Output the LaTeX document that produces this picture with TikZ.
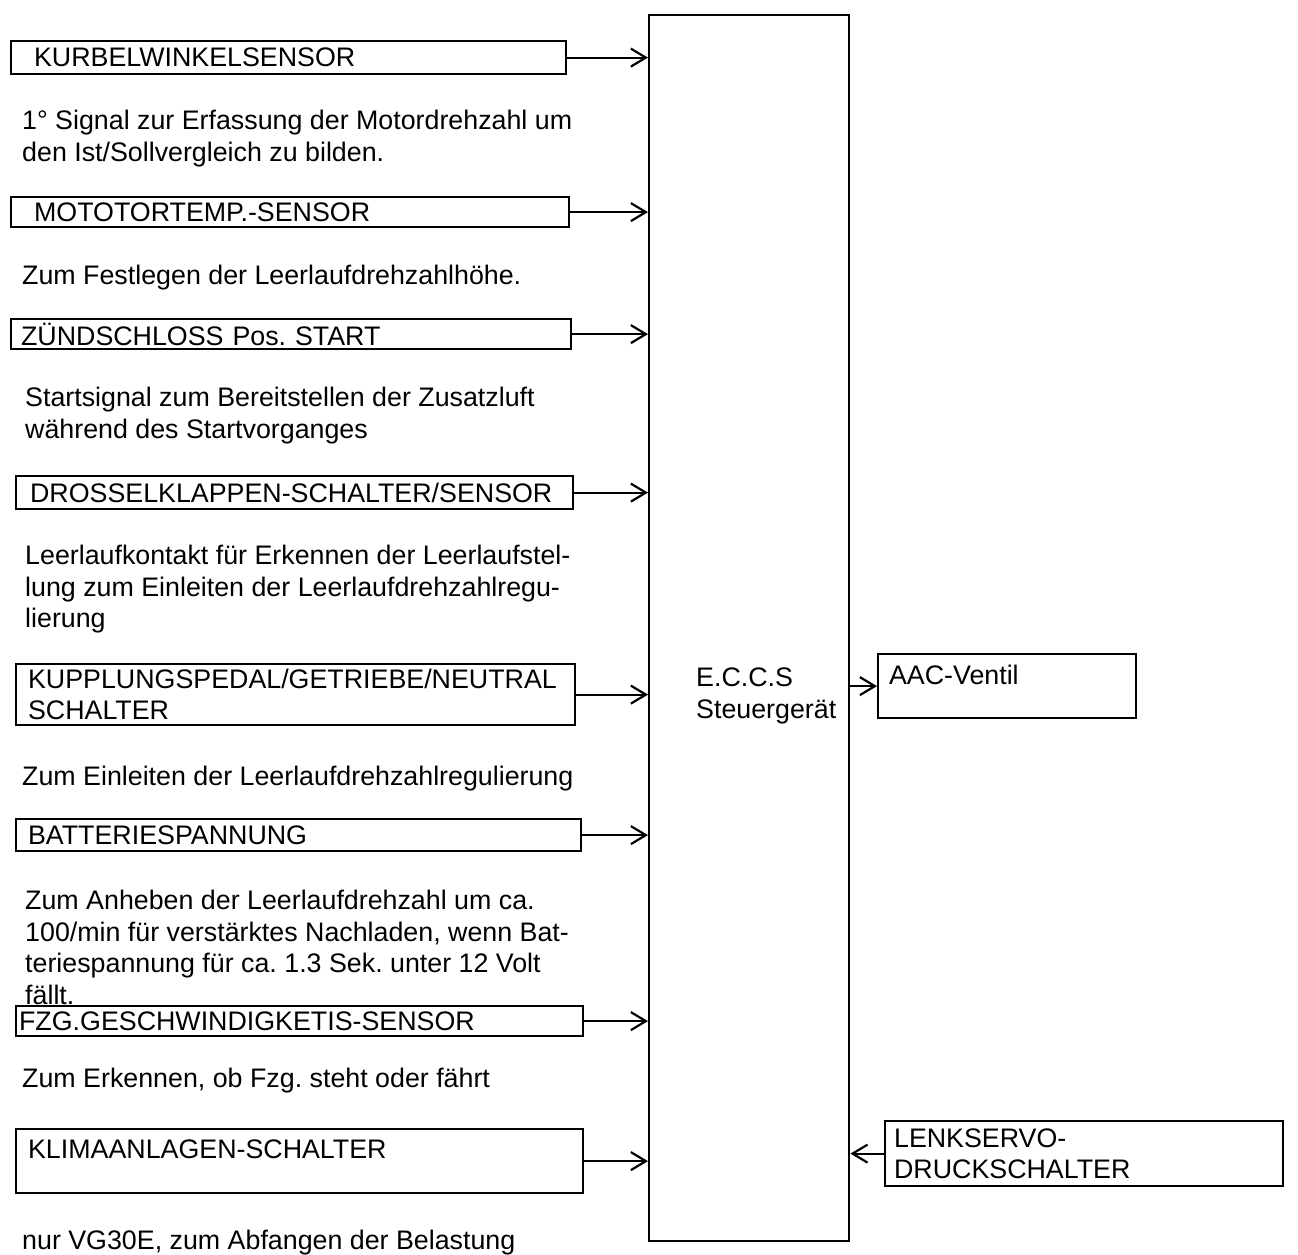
\documentclass[tikz,border=0pt]{standalone}
\usepackage{fontspec}
\setmainfont{Liberation Sans}
\usepackage{tikz}
\usetikzlibrary{arrows.meta, positioning}
\frenchspacing

\begin{document}
\begin{tikzpicture}[
    x=1pt, y=-1pt,
    font=\fontsize{26.8pt}{31.5pt}\selectfont,
    sensor/.style={draw, line width=2.2pt, rectangle, anchor=north west, align=left, inner ysep=0pt, inner xsep=12pt},
    note/.style={anchor=north west, align=left, inner sep=0pt},
    sig/.style={line width=2.2pt, -{Straight Barb[length=15pt, width=18pt, line width=2.2pt]}}
]
\useasboundingbox (0,0) rectangle (1298,1254);

% Nodes
\node (ecu) [draw, line width=2.4pt, anchor=north west, minimum width=200pt, minimum height=1226pt, inner sep=0pt] at (648,14) {};
\node (ecutxt) [note] at (696,668) {E.C.C.S\\Steuergerät};

\node (kurbel) [sensor, minimum height=33pt, text width=509pt, inner xsep=23pt] at (10,40) {KURBELWINKELSENSOR};
\node (motor) [sensor, minimum height=30pt, text width=512pt, inner xsep=23pt] at (10,196) {MOTOTORTEMP.-SENSOR};
\node (zuend) [sensor, minimum height=30pt, text width=540pt, inner xsep=10pt] at (10,318) {ZÜNDSCHLOSS Pos. START};
\node (drossel) [sensor, minimum height=33pt, text width=529pt, inner xsep=14pt] at (15,475) {DROSSELKLAPPEN-SCHALTER/SENSOR};
\node (kupplung) [sensor, minimum height=61pt, text width=535pt] at (15,663) {KUPPLUNGSPEDAL/GETRIEBE/NEUTRAL\\SCHALTER};
\node (batterie) [sensor, minimum height=32pt, text width=541pt] at (15,818) {BATTERIESPANNUNG};
\node (fzg) [sensor, minimum height=30pt, text width=561pt, inner xsep=3pt] at (15,1005) {FZG.GESCHWINDIGKETIS-SENSOR};
\node (klima) [sensor, text height=29pt, text depth=35pt, text width=543pt] at (15,1128) {KLIMAANLAGEN-SCHALTER};

\node (aac) [sensor, text height=30pt, text depth=34pt, text width=236pt, inner xsep=11pt] at (877,653) {AAC-Ventil};
\node (lenk) [sensor, minimum height=65pt, text width=380pt, inner xsep=9pt] at (884,1120) {LENKSERVO-\\DRUCKSCHALTER};

\node (n1) [note] at (22,110) {1° Signal zur Erfassung der Motordrehzahl um\\den Ist/Sollvergleich zu bilden.};
\node (n2) [note] at (22,265) {Zum Festlegen der Leerlaufdrehzahlhöhe.};
\node (n3) [note] at (25,387) {Startsignal zum Bereitstellen der Zusatzluft\\während des Startvorganges};
\node (n4) [note] at (25,545) {Leerlaufkontakt für Erkennen der Leerlaufstel-\\lung zum Einleiten der Leerlaufdrehzahlregu-\\lierung};
\node (n5) [note] at (22,766) {Zum Einleiten der Leerlaufdrehzahlregulierung};
\node (n6) [note] at (25,890) {Zum Anheben der Leerlaufdrehzahl um ca.\\100/min für verstärktes Nachladen, wenn Bat-\\teriespannung für ca. 1.3 Sek. unter 12 Volt\\fällt.};
\node (n7) [note] at (22,1068) {Zum Erkennen, ob Fzg. steht oder fährt};
\node (n8) [note] at (22,1230) {nur VG30E, zum Abfangen der Belastung};

% Links
\foreach \s in {kurbel, motor, zuend, drossel, kupplung, batterie, fzg, klima}
    \draw[sig] (\s.east) -- (\s.east -| ecu.west);
\draw[sig] (ecu.east |- aac.west) -- (aac.west);
\draw[sig] (lenk.west) -- (lenk.west -| ecu.east);

\end{tikzpicture}
\end{document}
